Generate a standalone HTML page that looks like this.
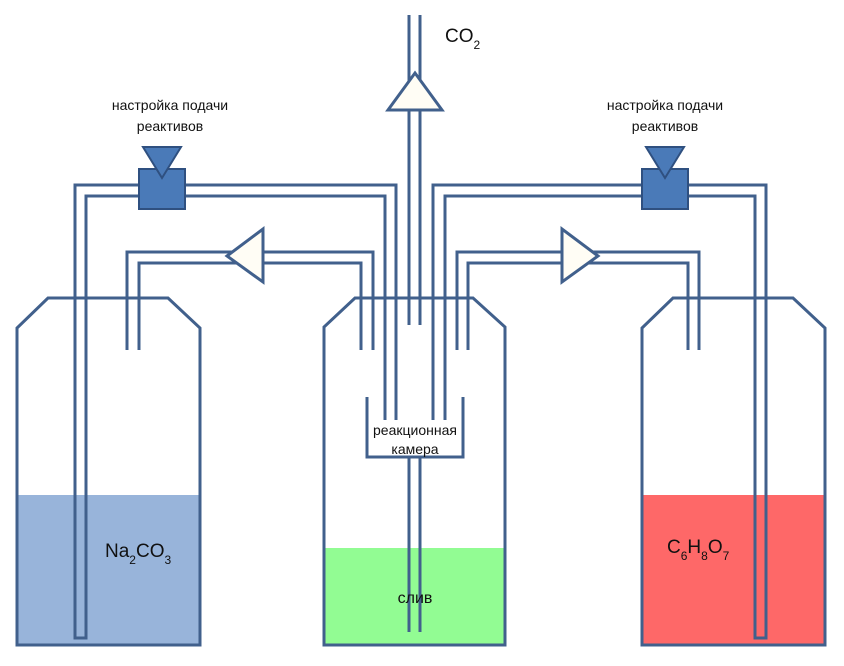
<!DOCTYPE html>
<html><head><meta charset="utf-8"><style>
html,body{margin:0;padding:0;background:#fff;}
svg{display:block;}
text{font-family:"Liberation Sans","DejaVu Sans",sans-serif;fill:#111;}
</style></head><body>
<svg width="844" height="666" viewBox="0 0 844 666" xmlns="http://www.w3.org/2000/svg">
<!-- liquids -->
<rect x="17" y="495" width="183" height="150" fill="#98b4da"/>
<rect x="324" y="548" width="181" height="97" fill="#92fc93"/>
<rect x="642" y="495" width="183" height="150" fill="#fe6868"/>
<g fill="none" stroke="#41608c" stroke-width="3" stroke-linejoin="miter">
<!-- bottles -->
<path d="M17,645 L17,328 L48,298 L168,298 L200,328 L200,645 Z"/>
<path d="M324,645 L324,327 L355,298 L473,298 L505,327 L505,645 Z"/>
<path d="M642,645 L642,328 L673,298 L793,298 L825,328 L825,645 Z"/>
<!-- left feed tubes -->
<path d="M396,420 L396,185 L75,185 L75,638 L86,638 L86,196 L385,196 L385,420"/>
<path d="M127,350 L127,252 L373,252 L373,350"/>
<path d="M139,350 L139,263 L361,263 L361,350"/>
<!-- right feed tubes -->
<path d="M433,420 L433,185 L766,185 L766,638 L755,638 L755,196 L445,196 L445,420"/>
<path d="M457,350 L457,252 L699,252 L699,350"/>
<path d="M468,350 L468,263 L688,263 L688,350"/>
<!-- CO2 tube -->
<path d="M409,15 L409,325 M420,15 L420,325"/>
<!-- chamber -->
<path d="M367,397 L367,457 L463,457 L463,397"/>
<path d="M409,457 L409,632 M420,457 L420,632"/>
</g>
<!-- arrows -->
<g fill="#fffdf5" stroke="#41608c" stroke-width="3" stroke-linejoin="miter">
<path d="M415,73 L442,110 L388,110 Z"/>
<path d="M227,256 L263,229 L263,282 Z"/>
<path d="M598,256 L562,229 L562,282 Z"/>
</g>
<!-- valves -->
<g fill="#4a7ab8" stroke="#2f5080" stroke-width="2">
<rect x="139" y="169" width="46" height="40"/>
<path d="M143,147 L181,147 L162,178 Z"/>
<rect x="642" y="169" width="46" height="40"/>
<path d="M646,147 L684,147 L665,178 Z"/>
</g>
<!-- labels -->
<g font-size="14" text-anchor="middle">
<text x="170" y="110">настройка подачи</text>
<text x="170" y="131">реактивов</text>
<text x="665" y="110">настройка подачи</text>
<text x="665" y="131">реактивов</text>
<text x="415" y="435">реакционная</text>
<text x="415" y="454">камера</text>
</g>
<text x="415" y="603" font-size="16" text-anchor="middle">слив</text>
<text x="445" y="42" font-size="19">CO<tspan font-size="12" dy="7">2</tspan></text>
<text x="105" y="557" font-size="19">Na<tspan font-size="12" dy="7">2</tspan><tspan dy="-7">CO</tspan><tspan font-size="12" dy="7">3</tspan></text>
<text x="667" y="553" font-size="19">C<tspan font-size="12" dy="7">6</tspan><tspan dy="-7">H</tspan><tspan font-size="12" dy="7">8</tspan><tspan dy="-7">O</tspan><tspan font-size="12" dy="7">7</tspan></text>
</svg>
</body></html>
